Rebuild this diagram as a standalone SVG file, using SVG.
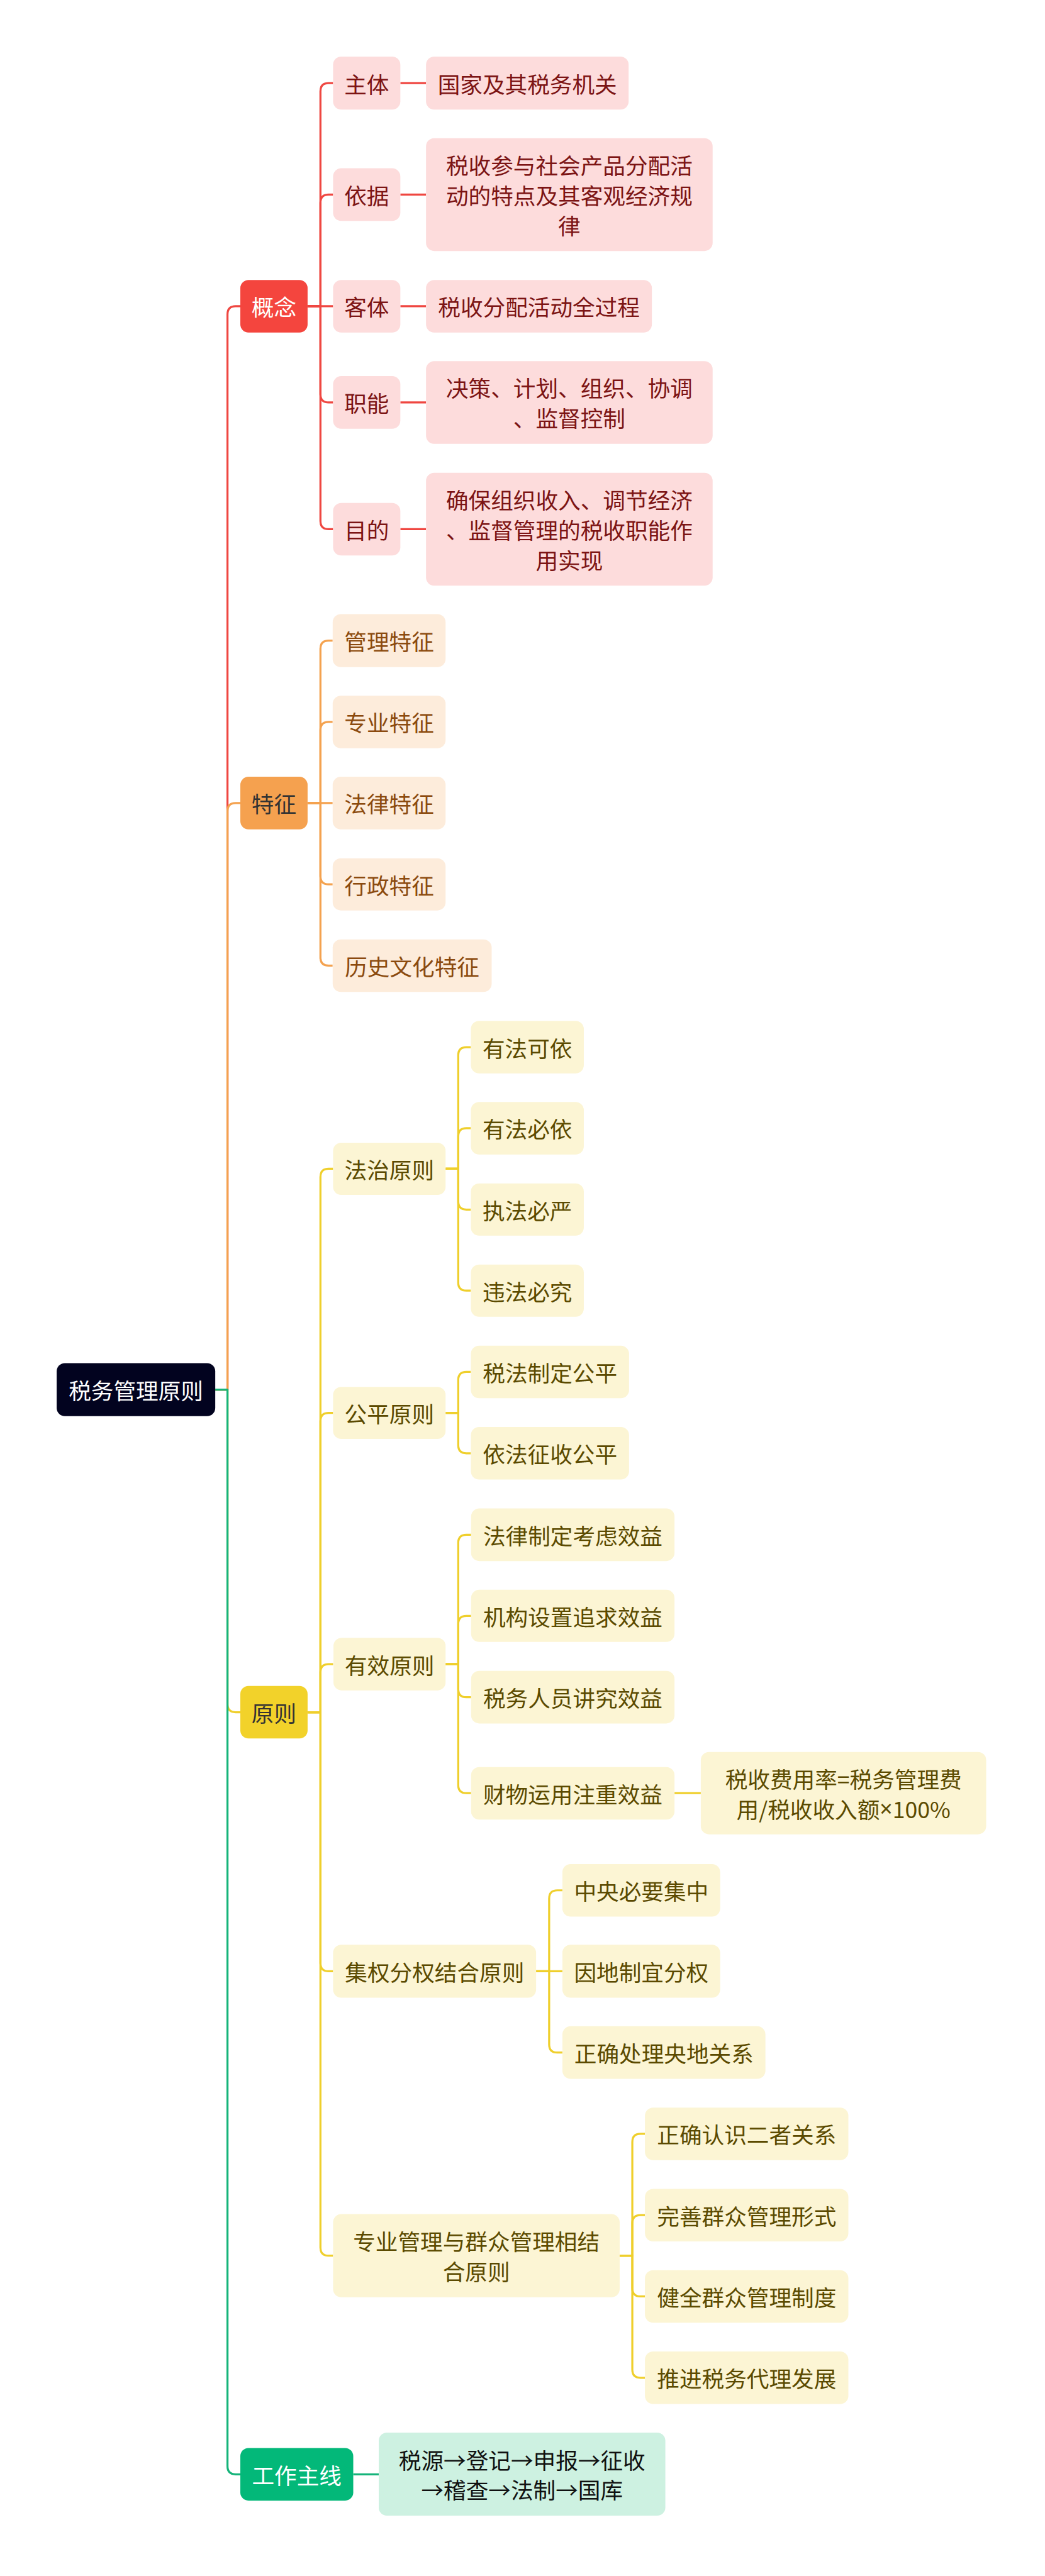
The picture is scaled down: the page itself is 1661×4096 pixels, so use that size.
<svg xmlns="http://www.w3.org/2000/svg" width="1661" height="4096" viewBox="0 0 1661 4096">
<style>
.t{font-family:"Noto Sans CJK SC","Noto Sans",sans-serif;font-size:55px;text-anchor:middle;dominant-baseline:central}
.lat{font-family:"Noto Sans","Noto Sans CJK SC",sans-serif}
.c{fill:none;stroke-width:5;stroke-linejoin:round}
.red{stroke:#ef4741}.org{stroke:#f4a24f}.yel{stroke:#efcf2c}.grn{stroke:#16b47a}
.r0{fill:#02031f}.r1{fill:#f4453e}.r2{fill:#f5a14f}.r3{fill:#f2d22a}.r4{fill:#03b879}
.p{fill:#fddcdc}.pt{fill:#7c1414}
.o{fill:#fdecdb}.ot{fill:#8b4a0e}
.y{fill:#fcf5d4}.yt{fill:#5b4a00}
.m{fill:#cdf1e1}.mt{fill:#111}
.w{fill:#fff}.d{fill:#333}
</style>
<rect width="1661" height="4096" fill="#fff"/>
<g transform="scale(0.648)">
<g id="connectors">
<path class="c red" d="M528,3410 H558 V771.5 Q558,751.5 578,751.5 H589.5"/>
<path class="c org" d="M528,3410 H558 V1990.5 Q558,1970.5 578,1970.5 H589.5"/>
<path class="c yel" d="M528,3410 H558 V4181.5 Q558,4201.5 578,4201.5 H589.5"/>
<path class="c grn" d="M528,3410 H558 V6051.5 Q558,6071.5 578,6071.5 H589.5"/>
<path class="c red" d="M754.5,751.5 H786 V224 Q786,204 806,204 H817"/>
<path class="c red" d="M754.5,751.5 H786 V497.5 Q786,477.5 806,477.5 H817"/>
<path class="c red" d="M754.5,751.5 H817"/>
<path class="c red" d="M754.5,751.5 H786 V967.5 Q786,987.5 806,987.5 H817"/>
<path class="c red" d="M754.5,751.5 H786 V1278.5 Q786,1298.5 806,1298.5 H817"/>
<path class="c red" d="M982,204 H1045 M982,477.5 H1045 M982,751.5 H1045 M982,987.5 H1045 M982,1298.5 H1045"/>
<path class="c org" d="M755,1970.5 H786 V1592 Q786,1572 806,1572 H816"/>
<path class="c org" d="M755,1970.5 H786 V1791.5 Q786,1771.5 806,1771.5 H816"/>
<path class="c org" d="M755,1970.5 H816"/>
<path class="c org" d="M755,1970.5 H786 V2150 Q786,2170 806,2170 H816"/>
<path class="c org" d="M755,1970.5 H786 V2349.5 Q786,2369.5 806,2369.5 H816"/>
<path class="c yel" d="M754.5,4201.5 H786 V2888 Q786,2868 806,2868 H817"/>
<path class="c yel" d="M754.5,4201.5 H786 V3487 Q786,3467 806,3467 H817"/>
<path class="c yel" d="M754.5,4201.5 H786 V4103.5 Q786,4083.5 806,4083.5 H817"/>
<path class="c yel" d="M754.5,4201.5 H786 V4817 Q786,4837 806,4837 H817"/>
<path class="c yel" d="M754.5,4201.5 H786 V5515 Q786,5535 806,5535 H817"/>
<path class="c yel" d="M1093,2868 H1124 V2589.5 Q1124,2569.5 1144,2569.5 H1155"/>
<path class="c yel" d="M1093,2868 H1124 V2788.5 Q1124,2768.5 1144,2768.5 H1155"/>
<path class="c yel" d="M1093,2868 H1124 V2948 Q1124,2968 1144,2968 H1155"/>
<path class="c yel" d="M1093,2868 H1124 V3147 Q1124,3167 1144,3167 H1155"/>
<path class="c yel" d="M1093,3467 H1124 V3386.5 Q1124,3366.5 1144,3366.5 H1155"/>
<path class="c yel" d="M1093,3467 H1124 V3546 Q1124,3566 1144,3566 H1155"/>
<path class="c yel" d="M1093,4083.5 H1124 V3786 Q1124,3766 1144,3766 H1155.5"/>
<path class="c yel" d="M1093,4083.5 H1124 V3985 Q1124,3965 1144,3965 H1155.5"/>
<path class="c yel" d="M1093,4083.5 H1124 V4144.5 Q1124,4164.5 1144,4164.5 H1155.5"/>
<path class="c yel" d="M1093,4083.5 H1124 V4380 Q1124,4400 1144,4400 H1155.5"/>
<path class="c yel" d="M1654.5,4400 H1719"/>
<path class="c yel" d="M1315,4837 H1347 V4658.5 Q1347,4638.5 1367,4638.5 H1379.5"/>
<path class="c yel" d="M1315,4837 H1379.5"/>
<path class="c yel" d="M1315,4837 H1347 V5016.5 Q1347,5036.5 1367,5036.5 H1379.5"/>
<path class="c yel" d="M1519.5,5535 H1551 V5256 Q1551,5236 1571,5236 H1582"/>
<path class="c yel" d="M1519.5,5535 H1551 V5455.5 Q1551,5435.5 1571,5435.5 H1582"/>
<path class="c yel" d="M1519.5,5535 H1551 V5615 Q1551,5635 1571,5635 H1582"/>
<path class="c yel" d="M1519.5,5535 H1551 V5814.5 Q1551,5834.5 1571,5834.5 H1582"/>
<path class="c grn" d="M866.5,6071.5 H929"/>
</g>

<g id="root"><rect class="r0" x="139" y="3345" width="389" height="130" rx="20"/><text class="t w" x="333.5" y="3410">税务管理原则</text></g>

<g id="n-gainian"><rect class="r1" x="589.5" y="687" width="165" height="129" rx="20"/><text class="t w" x="672" y="751.5">概念</text></g>
<g id="n-zhuti"><rect class="p" x="817" y="139" width="165" height="130" rx="20"/><text class="t pt" x="899.5" y="204">主体</text></g>
<g id="n-zhuti-1"><rect class="p" x="1045" y="139" width="497" height="130" rx="20"/><text class="t pt" x="1293.5" y="204">国家及其税务机关</text></g>
<g id="n-yiju"><rect class="p" x="817" y="413" width="165" height="129" rx="20"/><text class="t pt" x="899.5" y="477.5">依据</text></g>
<g id="n-yiju-1"><rect class="p" x="1045" y="339" width="703" height="277" rx="20"/><text class="t pt" x="1396.5" y="403.5">税收参与社会产品分配活</text><text class="t pt" x="1396.5" y="477.5">动的特点及其客观经济规</text><text class="t pt" x="1396.5" y="551.5">律</text></g>
<g id="n-keti"><rect class="p" x="817" y="687" width="165" height="129" rx="20"/><text class="t pt" x="899.5" y="751.5">客体</text></g>
<g id="n-keti-1"><rect class="p" x="1045" y="687" width="554" height="129" rx="20"/><text class="t pt" x="1322" y="751.5">税收分配活动全过程</text></g>
<g id="n-zhineng"><rect class="p" x="817" y="923" width="165" height="129" rx="20"/><text class="t pt" x="899.5" y="987.5">职能</text></g>
<g id="n-zhineng-1"><rect class="p" x="1045" y="886" width="703" height="203" rx="20"/><text class="t pt" x="1396.5" y="950.5">决策、计划、组织、协调</text><text class="t pt" x="1396.5" y="1024.5">、监督控制</text></g>
<g id="n-mudi"><rect class="p" x="817" y="1234" width="165" height="129" rx="20"/><text class="t pt" x="899.5" y="1298.5">目的</text></g>
<g id="n-mudi-1"><rect class="p" x="1045" y="1160" width="703" height="277" rx="20"/><text class="t pt" x="1396.5" y="1224.5">确保组织收入、调节经济</text><text class="t pt" x="1396.5" y="1298.5">、监督管理的税收职能作</text><text class="t pt" x="1396.5" y="1372.5">用实现</text></g>

<g id="n-tezheng"><rect class="r2" x="589.5" y="1906" width="165" height="129" rx="20"/><text class="t d" x="672" y="1970.5">特征</text></g>
<g id="n-tz1"><rect class="o" x="816" y="1507" width="277" height="130" rx="20"/><text class="t ot" x="954.5" y="1572">管理特征</text></g>
<g id="n-tz2"><rect class="o" x="816" y="1707" width="277" height="129" rx="20"/><text class="t ot" x="954.5" y="1771.5">专业特征</text></g>
<g id="n-tz3"><rect class="o" x="816" y="1906" width="277" height="129" rx="20"/><text class="t ot" x="954.5" y="1970.5">法律特征</text></g>
<g id="n-tz4"><rect class="o" x="816" y="2106" width="277" height="128" rx="20"/><text class="t ot" x="954.5" y="2170">行政特征</text></g>
<g id="n-tz5"><rect class="o" x="816" y="2305" width="390" height="129" rx="20"/><text class="t ot" x="1011" y="2369.5">历史文化特征</text></g>

<g id="n-yuanze"><rect class="r3" x="589.5" y="4137" width="165" height="129" rx="20"/><text class="t d" x="672" y="4201.5">原则</text></g>
<g id="n-fazhi"><rect class="y" x="817" y="2804" width="276" height="128" rx="20"/><text class="t yt" x="955" y="2868">法治原则</text></g>
<g id="n-fz1"><rect class="y" x="1155" y="2505" width="277" height="129" rx="20"/><text class="t yt" x="1293.5" y="2569.5">有法可依</text></g>
<g id="n-fz2"><rect class="y" x="1155" y="2704" width="277" height="129" rx="20"/><text class="t yt" x="1293.5" y="2768.5">有法必依</text></g>
<g id="n-fz3"><rect class="y" x="1155" y="2904" width="277" height="128" rx="20"/><text class="t yt" x="1293.5" y="2968">执法必严</text></g>
<g id="n-fz4"><rect class="y" x="1155" y="3103" width="277" height="128" rx="20"/><text class="t yt" x="1293.5" y="3167">违法必究</text></g>
<g id="n-gongping"><rect class="y" x="817" y="3403" width="276" height="128" rx="20"/><text class="t yt" x="955" y="3467">公平原则</text></g>
<g id="n-gp1"><rect class="y" x="1155" y="3302" width="388" height="129" rx="20"/><text class="t yt" x="1349" y="3366.5">税法制定公平</text></g>
<g id="n-gp2"><rect class="y" x="1155" y="3501.5" width="388" height="129" rx="20"/><text class="t yt" x="1349" y="3566">依法征收公平</text></g>
<g id="n-youxiao"><rect class="y" x="818" y="4019" width="275" height="129" rx="20"/><text class="t yt" x="955.5" y="4083.5">有效原则</text></g>
<g id="n-yx1"><rect class="y" x="1155.5" y="3701.5" width="499" height="129" rx="20"/><text class="t yt" x="1405" y="3766">法律制定考虑效益</text></g>
<g id="n-yx2"><rect class="y" x="1155.5" y="3901" width="499" height="128" rx="20"/><text class="t yt" x="1405" y="3965">机构设置追求效益</text></g>
<g id="n-yx3"><rect class="y" x="1155.5" y="4100" width="499" height="129" rx="20"/><text class="t yt" x="1405" y="4164.5">税务人员讲究效益</text></g>
<g id="n-yx4"><rect class="y" x="1155.5" y="4336" width="499" height="129" rx="20"/><text class="t yt" x="1405" y="4400">财物运用注重效益</text></g>
<g id="n-yx4-1"><rect class="y" x="1719" y="4299" width="700" height="202" rx="20"/><text class="t yt" x="2069" y="4363">税收费用率=税务管理费</text><text class="t yt" x="2069" y="4437">用/税收收入额<tspan class="lat">×</tspan>100%</text></g>
<g id="n-jiquan"><rect class="y" x="817" y="4772" width="498" height="130" rx="20"/><text class="t yt" x="1066" y="4837">集权分权结合原则</text></g>
<g id="n-jq1"><rect class="y" x="1379.5" y="4574" width="387" height="129" rx="20"/><text class="t yt" x="1573" y="4638.5">中央必要集中</text></g>
<g id="n-jq2"><rect class="y" x="1379.5" y="4772" width="387" height="130" rx="20"/><text class="t yt" x="1573" y="4837">因地制宜分权</text></g>
<g id="n-jq3"><rect class="y" x="1379.5" y="4972" width="498" height="129" rx="20"/><text class="t yt" x="1628.5" y="5036.5">正确处理央地关系</text></g>
<g id="n-zhuanye"><rect class="y" x="817" y="5433" width="703" height="204" rx="20"/><text class="t yt" x="1168.5" y="5498">专业管理与群众管理相结</text><text class="t yt" x="1168.5" y="5572">合原则</text></g>
<g id="n-zy1"><rect class="y" x="1582" y="5171.5" width="499" height="129" rx="20"/><text class="t yt" x="1831.5" y="5236">正确认识二者关系</text></g>
<g id="n-zy2"><rect class="y" x="1582" y="5371" width="499" height="129" rx="20"/><text class="t yt" x="1831.5" y="5435.5">完善群众管理形式</text></g>
<g id="n-zy3"><rect class="y" x="1582" y="5570.5" width="499" height="129" rx="20"/><text class="t yt" x="1831.5" y="5635">健全群众管理制度</text></g>
<g id="n-zy4"><rect class="y" x="1582" y="5770" width="499" height="129" rx="20"/><text class="t yt" x="1831.5" y="5834.5">推进税务代理发展</text></g>

<g id="n-gongzuo"><rect class="r4" x="589.5" y="6007" width="277" height="129" rx="20"/><text class="t w" x="728" y="6071.5">工作主线</text></g>
<g id="n-gongzuo-1"><rect class="m" x="929" y="5969" width="703" height="204" rx="20"/><text class="t mt" x="1280.5" y="6034">税源→登记→申报→征收</text><text class="t mt" x="1280.5" y="6108">→稽查→法制→国库</text></g>
</g>
</svg>
